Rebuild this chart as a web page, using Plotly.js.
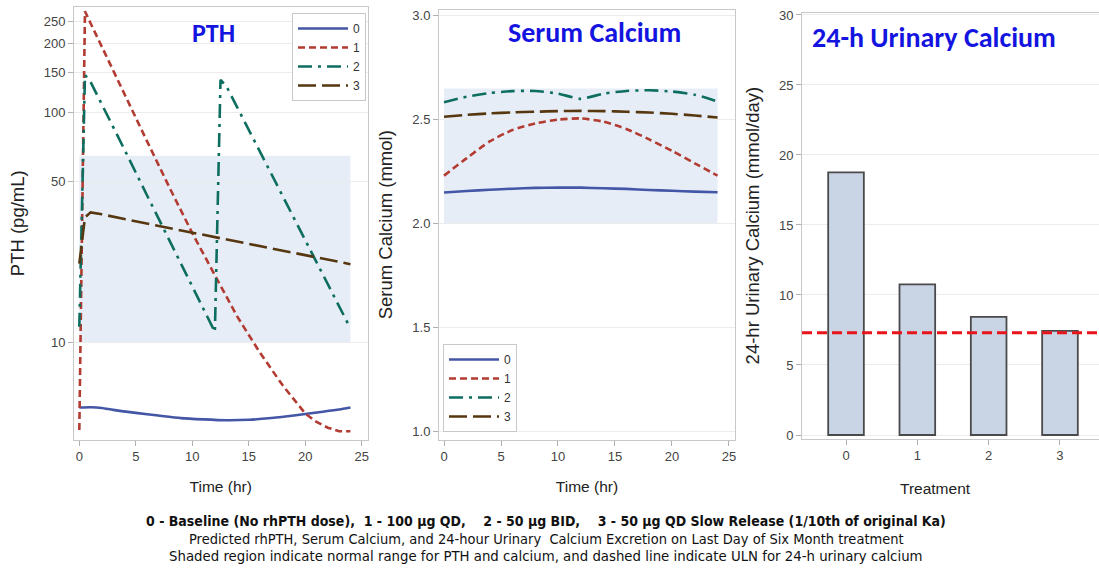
<!DOCTYPE html>
<html>
<head>
<meta charset="utf-8">
<script src="https://cdn.plot.ly/plotly-3.0.1.min.js"></script>
<style>html,body{margin:0;padding:0;background:#fff;}#chart{width:1099px;height:571px;}</style>
</head>
<body>
<div id="chart"></div>
<script>
// ---------- Data ----------
const seriesNames = ['0', '1', '2', '3'];

// PTH (pg/mL) vs time (hr)
const pthT0 = [0, 1, 2, 3, 5, 7, 9, 11, 13, 15, 17, 19, 21, 23, 24];
const pthV0 = [5.2, 5.22, 5.18, 5.08, 4.93, 4.8, 4.68, 4.62, 4.58, 4.6, 4.68, 4.8, 4.95, 5.1, 5.2];
const pthT1 = [0, 0.5, 1, 2, 4, 6, 8, 10, 12, 14, 16, 18, 20, 21, 22, 23, 24];
const pthV1 = [4.15, 276, 245, 193, 120, 75, 47, 29.9, 19.6, 12.9, 9.0, 6.5, 4.9, 4.5, 4.25, 4.1, 4.1];
const pthT2 = [0, 0.5, 1, 2, 4, 6, 8, 10, 12, 12.5, 13, 14, 16, 18, 20, 22, 24];
const pthV2 = [11.7, 146, 136, 109, 69, 43.6, 27.7, 17.5, 11.1, 139, 131, 105, 67.4, 43.4, 27.9, 17.9, 11.5];
const pthT3 = [0, 0.5, 1, 2, 4, 6, 8, 10, 12, 14, 16, 18, 20, 22, 24];
const pthV3 = [22, 35, 36.8, 36.1, 34.4, 32.9, 31.4, 30.0, 28.7, 27.4, 26.2, 25.1, 23.9, 22.9, 21.9];
const pthNormal = [10, 65];
const pthTicks = [10, 50, 100, 150, 200, 250];

// Serum calcium (mmol) vs time (hr)
const caT = [0, 2, 4, 6, 8, 10, 12, 14, 16, 18, 20, 22, 24];
const caV0 = [2.15, 2.157, 2.163, 2.168, 2.172, 2.173, 2.173, 2.17, 2.167, 2.162, 2.158, 2.154, 2.151];
const caV1 = [2.231, 2.315, 2.395, 2.45, 2.482, 2.5, 2.506, 2.49, 2.455, 2.405, 2.35, 2.29, 2.231];
const caV2 = [2.584, 2.61, 2.628, 2.637, 2.638, 2.625, 2.6, 2.625, 2.638, 2.641, 2.635, 2.62, 2.587];
const caV3 = [2.514, 2.523, 2.53, 2.535, 2.538, 2.541, 2.542, 2.541, 2.538, 2.534, 2.528, 2.52, 2.51];
const caNormal = [2.0, 2.65];

// 24-h urinary calcium (mmol/day) by treatment
const treatments = ['0', '1', '2', '3'];
const urineCa = [18.76, 10.76, 8.43, 7.43];
const urineULN = 7.31;
const normalHours = [0, 24];

// ---------- Styles ----------
const colors = ['#4456a6', '#b23b32', '#0d6e60', '#56370f'];
const dashes = ['solid', '7px,4px', '14px,6px,3px,6px', '18px,6px'];
const W = 1099, H = 571;
const px = v => v / W;
const py = v => (H - v) / H;
const tickFont = {family: 'Liberation Sans, Arial, sans-serif', size: 13, color: '#444'};
const xTitleFont = {family: 'Liberation Sans, Arial, sans-serif', size: 15.5, color: '#222'};
const yTitleFont = {family: 'Liberation Sans, Arial, sans-serif', size: 18.5, color: '#222'};
const noteFont = 'Liberation Sans Narrow, Arial Narrow, DejaVu Sans Condensed, sans-serif';
const headFont = 'Carlito, Lato, sans-serif';

function lineTrace(x, y, i, xa, ya, leg, shape) {
  return {
    x: x, y: y, type: 'scatter', mode: 'lines', name: seriesNames[i],
    xaxis: xa, yaxis: ya, legend: leg, showlegend: true,
    line: {color: colors[i], width: 2.6, dash: dashes[i], shape: shape || 'linear', smoothing: 0.6},
    hoverinfo: 'x+y'
  };
}

const traces = [
  lineTrace(pthT0, pthV0, 0, 'x', 'y', 'legend', 'spline'),
  lineTrace(pthT1, pthV1, 1, 'x', 'y', 'legend'),
  lineTrace(pthT2, pthV2, 2, 'x', 'y', 'legend'),
  lineTrace(pthT3, pthV3, 3, 'x', 'y', 'legend'),
  lineTrace(caT, caV0, 0, 'x2', 'y2', 'legend2', 'spline'),
  lineTrace(caT, caV1, 1, 'x2', 'y2', 'legend2', 'spline'),
  lineTrace(caT, caV2, 2, 'x2', 'y2', 'legend2', 'spline'),
  lineTrace(caT, caV3, 3, 'x2', 'y2', 'legend2', 'spline'),
  {
    x: treatments, y: urineCa, type: 'bar', xaxis: 'x3', yaxis: 'y3', width: 0.5,
    showlegend: false,
    marker: {color: '#c9d4e5', line: {color: '#4a4a4a', width: 1.8}}
  }
];

function axisBase(extra) {
  return Object.assign({
    showline: true, mirror: true, linecolor: '#c8c8c8', linewidth: 1,
    ticks: 'outside', ticklen: 5, tickcolor: '#b0b0b0', tickfont: tickFont,
    showgrid: false, zeroline: false
  }, extra);
}

const legendFont = {family: 'Liberation Sans, Arial, sans-serif', size: 12, color: '#333'};

const layout = {
  width: W, height: H,
  margin: {l: 0, r: 0, t: 0, b: 0},
  paper_bgcolor: '#fff', plot_bgcolor: '#fff',
  xaxis: axisBase({domain: [px(74), px(367.5)], range: [-0.47, 25.51], tickvals: [0, 5, 10, 15, 20, 25], anchor: 'y',
    title: {text: 'Time (hr)', font: xTitleFont, standoff: 18}}),
  yaxis: axisBase({domain: [py(439.5), py(7)], type: 'log', range: [0.577, 2.46], tickvals: pthTicks, ticktext: pthTicks.map(String),
    showgrid: true, gridcolor: '#ececec', anchor: 'x',
    title: {text: 'PTH (pg/mL)', font: yTitleFont, standoff: 14}}),
  xaxis2: axisBase({domain: [px(439), px(735)], range: [-0.44, 25.53], tickvals: [0, 5, 10, 15, 20, 25], anchor: 'y2',
    title: {text: 'Time (hr)', font: xTitleFont, standoff: 18}}),
  yaxis2: axisBase({domain: [py(439.5), py(10)], range: [0.9625, 3.027], tickvals: [1.0, 1.5, 2.0, 2.5, 3.0], tickformat: '.1f',
    showgrid: true, gridcolor: '#ececec', anchor: 'x2',
    title: {text: 'Serum Calcium (mmol)', font: yTitleFont, standoff: 14}}),
  xaxis3: axisBase({domain: [px(802), 1], type: 'category', range: [-0.617, 3.547], anchor: 'y3'}),
  yaxis3: axisBase({domain: [py(438.5), py(12.7)], range: [-0.25, 30.16], tickvals: [0, 5, 10, 15, 20, 25, 30],
    showgrid: true, gridcolor: '#ececec', anchor: 'x3',
    title: {text: '24-hr Urinary Calcium (mmol/day)', font: yTitleFont, standoff: 14}}),
  legend: {x: px(292), y: py(13), xanchor: 'left', yanchor: 'top', bgcolor: '#fff', bordercolor: '#c8c8c8', borderwidth: 1,
    font: legendFont, itemwidth: 50, tracegroupgap: 0},
  legend2: {x: px(443), y: py(432), xanchor: 'left', yanchor: 'bottom', bgcolor: '#fff', bordercolor: '#c8c8c8', borderwidth: 1,
    font: legendFont, itemwidth: 50, tracegroupgap: 0},
  shapes: [
    {type: 'rect', xref: 'x', yref: 'y', x0: normalHours[0], x1: normalHours[1], y0: pthNormal[0], y1: pthNormal[1],
      fillcolor: 'rgb(231,237,247)', line: {width: 0}, layer: 'below'},
    {type: 'rect', xref: 'x2', yref: 'y2', x0: normalHours[0], x1: normalHours[1], y0: caNormal[0], y1: caNormal[1],
      fillcolor: 'rgb(231,237,247)', line: {width: 0}, layer: 'below'},
    {type: 'line', xref: 'x3 domain', yref: 'y3', x0: 0, x1: 1, y0: urineULN, y1: urineULN,
      line: {color: '#e8141c', width: 3, dash: '10px,5px'}, layer: 'above'}
  ],
  annotations: [
    {text: '<b>PTH</b>', xref: 'paper', yref: 'paper', x: px(213), y: py(33), xanchor: 'center', yanchor: 'middle', showarrow: false,
      font: {family: headFont, size: 26, color: '#1414e0'}},
    {text: '<b>Serum Calcium</b>', xref: 'paper', yref: 'paper', x: px(594), y: py(33), xanchor: 'center', yanchor: 'middle', showarrow: false,
      font: {family: headFont, size: 28, color: '#1414e0'}},
    {text: '<b>24-h Urinary Calcium</b>', xref: 'paper', yref: 'paper', x: px(810), y: py(37), xanchor: 'left', yanchor: 'middle', showarrow: false,
      font: {family: headFont, size: 28, color: '#1414e0'}},
    {text: 'Treatment', xref: 'paper', yref: 'paper', x: px(935), y: py(488), xanchor: 'center', yanchor: 'middle', showarrow: false,
      font: xTitleFont},
    {text: '<b>0 - Baseline (No rhPTH dose),  1 - 100 µg QD,    2 - 50 µg BID,    3 - 50 µg QD Slow Release (1/10th of original Ka)</b>',
      xref: 'paper', yref: 'paper', x: px(546), y: py(521), xanchor: 'center', yanchor: 'middle', showarrow: false,
      font: {family: noteFont, size: 14, color: '#111'}},
    {text: 'Predicted rhPTH, Serum Calcium, and 24-hour Urinary  Calcium Excretion on Last Day of Six Month treatment',
      xref: 'paper', yref: 'paper', x: px(546), y: py(538.5), xanchor: 'center', yanchor: 'middle', showarrow: false,
      font: {family: noteFont, size: 14.5, color: '#111'}},
    {text: 'Shaded region indicate normal range for PTH and calcium, and dashed line indicate ULN for 24-h urinary calcium',
      xref: 'paper', yref: 'paper', x: px(545.5), y: py(555.5), xanchor: 'center', yanchor: 'middle', showarrow: false,
      font: {family: noteFont, size: 14.8, color: '#111'}}
  ]
};

Plotly.newPlot('chart', traces, layout, {displayModeBar: false, staticPlot: true});
</script>
</body>
</html>
